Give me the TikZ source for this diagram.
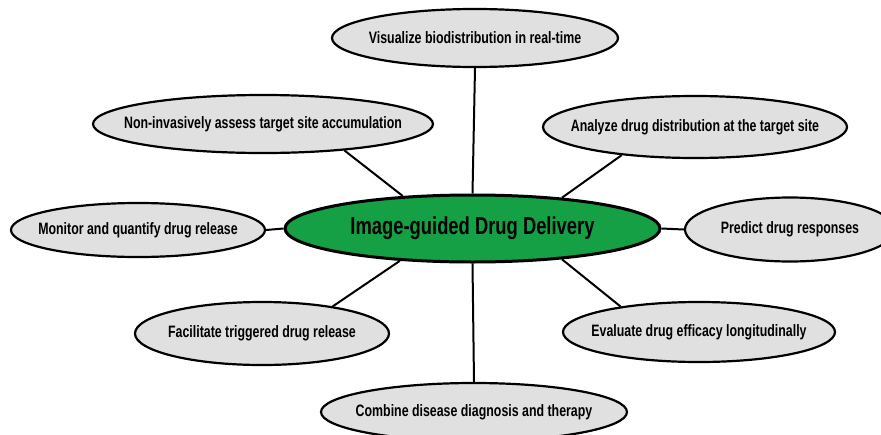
\documentclass[tikz,border=0pt]{standalone}
\usepackage{fontspec}
\setmainfont{Liberation Sans}[FakeStretch=0.75]
\usetikzlibrary{shapes.geometric}
\definecolor{mygreen}{RGB}{22,160,70}
\definecolor{mygray}{RGB}{224,224,224}

\begin{document}
\begin{tikzpicture}[x=1pt,y=-1pt]
\tikzset{HubStyle/.style ={shape=ellipse, draw, line width=3pt, fill=mygreen,
    inner xsep=-40pt, inner ysep=-6pt, font=\fontsize{24.5}{27}\selectfont\bfseries},
  LeafStyle/.style ={shape=ellipse, draw, line width=2.2pt, fill=mygray,
    inner xsep=-40pt, inner ysep=-6pt, font=\fontsize{16.5}{18}\selectfont\bfseries},
  EdgeStyle/.style ={line width=2pt}}
\useasboundingbox (0,0) rectangle (881,434);
\clip (0,0) rectangle (881,434);
\node[HubStyle, minimum width=375pt, minimum height=67pt] (hub) at (472.5,228.5) {Image-guided Drug Delivery};
\node[LeafStyle, minimum width=286pt, minimum height=58pt] (visual) at (475,38) {Visualize biodistribution in real-time};
\node[LeafStyle, minimum width=340pt, minimum height=58pt] (assess) at (263,124) {Non-invasively assess target site accumulation};
\node[LeafStyle, minimum width=304pt, minimum height=62pt] (analyze) at (695,127) {Analyze drug distribution at the target site};
\node[LeafStyle, minimum width=254pt, minimum height=54pt] (monitor) at (138,230) {Monitor and quantify drug release};
\node[LeafStyle, minimum width=210pt, minimum height=64pt] (predict) at (790,229.5) {Predict drug responses};
\node[LeafStyle, minimum width=254pt, minimum height=63pt] (trigger) at (262,333.5) {Facilitate triggered drug release};
\node[LeafStyle, minimum width=272pt, minimum height=60pt] (evaluate) at (699,332) {Evaluate drug efficacy longitudinally};
\node[LeafStyle, minimum width=306pt, minimum height=58pt] (combine) at (474,412) {Combine disease diagnosis and therapy};
% spokes
\draw[EdgeStyle] (hub.north) -- (visual.south);
\draw[EdgeStyle] (hub.155.5) -- (assess.342);
\draw[EdgeStyle] (hub.19.5) -- (analyze.201);
\draw[EdgeStyle] (hub.west) -- (monitor.east);
\draw[EdgeStyle] (hub.east) -- (predict.west);
\draw[EdgeStyle] (hub.204) -- (trigger.21);
\draw[EdgeStyle] (hub.341) -- (evaluate.162);
\draw[EdgeStyle] (hub.south) -- (combine.north);
\end{tikzpicture}
\end{document}
